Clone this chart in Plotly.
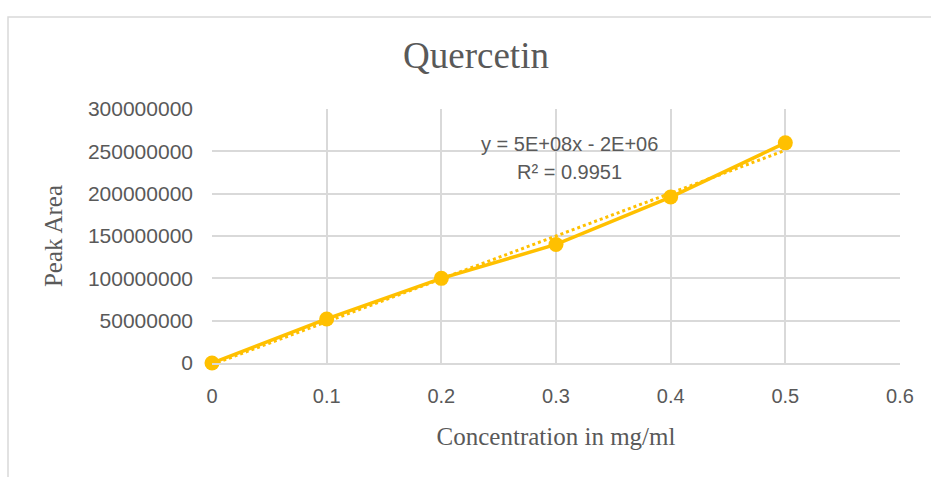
import numpy as np
import plotly.graph_objects as go

concentration = [0, 0.1, 0.2, 0.3, 0.4, 0.5]
peak_area = [0, 52000000, 100000000, 140000000, 196000000, 260000000]
y_ticks = [0, 50000000, 100000000, 150000000, 200000000, 250000000, 300000000]
x_ticks = [0, 0.1, 0.2, 0.3, 0.4, 0.5, 0.6]

slope, intercept = np.polyfit(concentration, peak_area, 1)
fit_y = [slope * x + intercept for x in concentration]

COL = "#FFC000"
TXT = "#595959"
GRID = "#D9D9D9"

fig = go.Figure()
fig.add_trace(go.Scatter(x=concentration, y=fit_y, mode="lines",
                         line=dict(color=COL, width=3, dash="dot"),
                         showlegend=False, hoverinfo="skip", cliponaxis=False))
fig.add_trace(go.Scatter(x=concentration, y=peak_area, mode="lines+markers",
                         line=dict(color=COL, width=3.5),
                         marker=dict(color=COL, size=15),
                         showlegend=False, cliponaxis=False))

fig.add_annotation(x=0.312, y=258700000, xref="x", yref="y",
                   text="y = 5E+08x - 2E+06", showarrow=False,
                   font=dict(family="Liberation Sans", size=20, color=TXT))
fig.add_annotation(x=0.312, y=225600000, xref="x", yref="y",
                   text="R² = 0.9951", showarrow=False,
                   font=dict(family="Liberation Sans", size=20, color=TXT))

fig.add_shape(type="rect", xref="paper", yref="paper",
              x0=-0.2965, x1=1.06, y0=-0.5, y1=1.362,
              line=dict(color=GRID, width=1.5), fillcolor="rgba(0,0,0,0)", layer="below")

fig.update_layout(
    width=931, height=477,
    margin=dict(l=212, r=31, t=109, b=114),
    paper_bgcolor="white", plot_bgcolor="white",
    title=dict(text="Quercetin", x=476 / 931, xanchor="center", xref="container",
               y=1 - 55 / 477, yanchor="middle",
               font=dict(family="Liberation Serif", size=37, color=TXT)),
    xaxis=dict(range=[0, 0.6], tickvals=x_ticks, ticktext=[str(v) for v in x_ticks],
               showgrid=True, gridcolor=GRID, gridwidth=1.5, zeroline=False,
               showline=True, linecolor=GRID, linewidth=1.5,
               ticks="", ticklabelstandoff=14,
               tickfont=dict(family="Liberation Sans", size=20, color=TXT),
               title=dict(text="Concentration in mg/ml", standoff=22,
                          font=dict(family="Liberation Serif", size=25, color=TXT))),
    yaxis=dict(range=[0, 300000000], tickvals=y_ticks, ticktext=[str(v) for v in y_ticks],
               showgrid=True, gridcolor=GRID, gridwidth=1.5, zeroline=False,
               showline=False, ticks="", ticklabelstandoff=18,
               tickfont=dict(family="Liberation Sans", size=21, color=TXT),
               title=dict(text="Peak Area", standoff=18,
                          font=dict(family="Liberation Serif", size=25, color=TXT))),
)

fig.write_html("out.html")
